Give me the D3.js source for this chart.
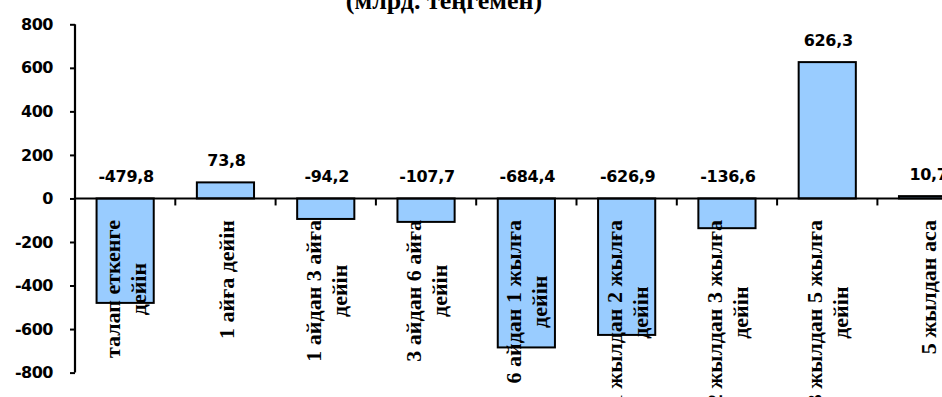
<!DOCTYPE html>
<html>
<head>
<meta charset="utf-8">
<script src="https://cdn.jsdelivr.net/npm/d3@7/dist/d3.min.js"></script>
<style>
  html, body { margin: 0; padding: 0; background: #fff; }
  svg { display: block; }
</style>
</head>
<body>
<svg id="chart" width="942" height="397"></svg>
<script>
// Maturity buckets (each entry is the wrapped lines of its label)
const categories = [
  ["талап еткенге", "дейін"],
  ["1 айға дейін"],
  ["1 айдан 3 айға", "дейін"],
  ["3 айдан 6 айға", "дейін"],
  ["6 айдан 1 жылға", "дейін"],
  ["1 жылдан 2 жылға", "дейін"],
  ["2 жылдан 3 жылға", "дейін"],
  ["3 жылдан 5 жылға", "дейін"],
  ["5 жылдан аса"]
];
// Gap between assets and liabilities, bn tenge
const values = [-479.8, 73.8, -94.2, -107.7, -684.4, -626.9, -136.6, 626.3, 10.7];
const yTicks = [-800, -600, -400, -200, 0, 200, 400, 600, 800];
const titleText = "(млрд. теңгемен)";

const svg = d3.select("#chart");
const keys = categories.map((c, i) => i);

const x = d3.scaleBand()
  .domain(keys)
  .range([75, 977.7])
  .paddingInner(0.43)
  .paddingOuter(0.215);

const y = d3.scaleLinear()
  .domain([-800, 800])
  .range([372.6, 24.3]);

const fmt = v => d3.format(".1f")(v).replace(".", ",").replace("−", "-");

// Title
svg.append("text")
  .attr("x", 444)
  .attr("y", 9)
  .attr("text-anchor", "middle")
  .style("font-family", "'Liberation Serif', 'Times New Roman', serif")
  .style("font-weight", "bold")
  .style("font-size", "26px")
  .text(titleText);

// Bars
svg.append("g")
  .selectAll("rect")
  .data(values)
  .join("rect")
  .attr("x", (d, i) => x(i))
  .attr("width", x.bandwidth())
  .attr("y", d => Math.min(y(d), y(0)))
  .attr("height", d => Math.abs(y(d) - y(0)))
  .attr("fill", "#99ccff")
  .attr("stroke", "#000")
  .attr("stroke-width", 2);

// Y axis
const yAxis = d3.axisLeft(y)
  .tickValues(yTicks)
  .tickSize(5)
  .tickPadding(17)
  .tickFormat(d => String(d));
const gy = svg.append("g").attr("transform", "translate(75,0)").call(yAxis);
gy.select(".domain").attr("stroke", "#000").attr("stroke-width", 2.2).attr("d", `M0,${y(800)}V${y(-800)}`);
gy.selectAll(".tick line").attr("stroke", "#000").attr("stroke-width", 2);
gy.selectAll(".tick text")
  .attr("fill", "#000")
  .style("font-family", "'DejaVu Sans', Verdana, sans-serif")
  .style("font-weight", "bold")
  .style("font-size", "16px")
  .style("letter-spacing", "-0.5px");

// X axis along zero, tick marks between categories
const gap = (x.step() - x.bandwidth()) / 2;
const gx = svg.append("g");
gx.append("line")
  .attr("x1", 75).attr("x2", 942)
  .attr("y1", y(0)).attr("y2", y(0))
  .attr("stroke", "#000").attr("stroke-width", 2);
gx.selectAll("line.tick")
  .data(keys.slice(1))
  .join("line")
  .attr("class", "tick")
  .attr("x1", d => x(d) - gap).attr("x2", d => x(d) - gap)
  .attr("y1", y(0)).attr("y2", y(0) + 7)
  .attr("stroke", "#000").attr("stroke-width", 2);

// Value labels
svg.append("g")
  .selectAll("text")
  .data(values)
  .join("text")
  .attr("x", (d, i) => x(i) + x.bandwidth() / 2 + 1)
  .attr("y", d => Math.min(y(d), y(0)) - 16)
  .attr("text-anchor", "middle")
  .style("font-family", "'DejaVu Sans', Verdana, sans-serif")
  .style("font-weight", "bold")
  .style("font-size", "16px")
  .style("letter-spacing", "-0.3px")
  .text(d => fmt(d));

// Rotated category labels, block top-aligned below the axis, lines centred
const labelFont = 22, lineGap = 26, labelTop = 220;
const gl = svg.append("g");
categories.forEach((lines, i) => {
  const cx = x(i) + x.bandwidth() / 2 + 3;
  const g = gl.append("g");
  const texts = lines.map((ln, j) => {
    const off = (j - (lines.length - 1) / 2) * lineGap;
    return g.append("text")
      .attr("data-off", off)
      .attr("text-anchor", "middle")
      .style("font-family", "'Liberation Serif', 'Times New Roman', serif")
      .style("font-weight", "bold")
      .style("font-size", labelFont + "px")
      .text(ln);
  });
  const L = d3.max(texts, t => t.node().getComputedTextLength());
  texts.forEach(t => {
    const off = +t.attr("data-off");
    const bx = cx + off + 0.23 * labelFont;
    t.attr("transform", `translate(${bx},${labelTop}) rotate(-90)`)
      .attr("x", -L / 2)
      .attr("y", 0);
  });
});
</script>
</body>
</html>
